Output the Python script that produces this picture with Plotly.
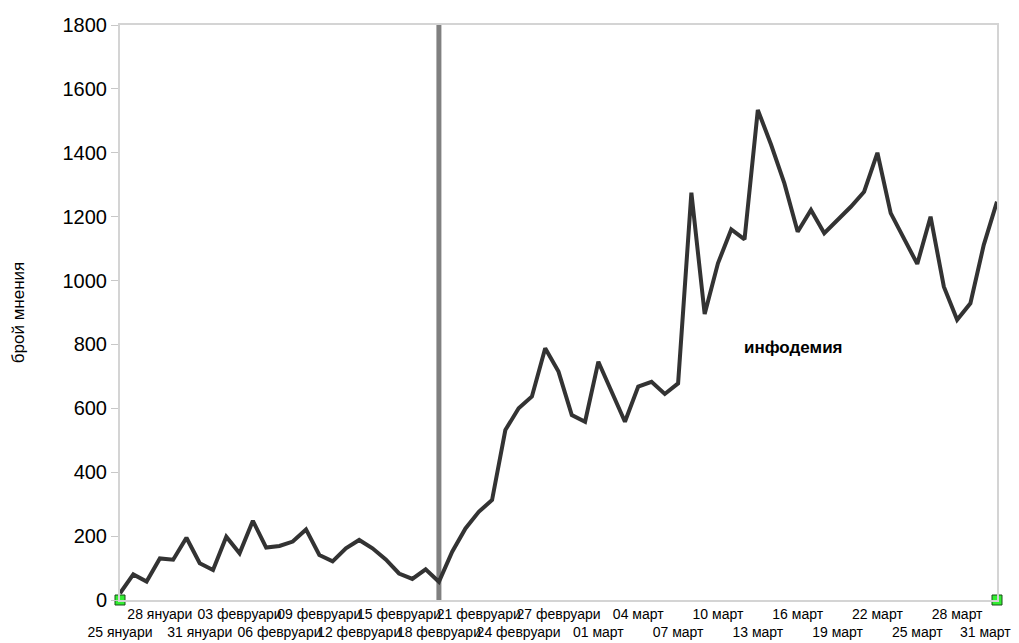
import pandas as pd
import plotly.graph_objects as go

start_date = "2020-01-25"
end_date = "2020-03-31"
dates = pd.date_range(start_date, end_date, freq="D")

opinions = [
    21, 80, 58, 130, 126, 195, 115, 94, 198, 146,
    248, 164, 169, 183, 221, 141, 121, 162, 188, 162,
    127, 83, 66, 96, 57, 151, 224, 276, 313, 532,
    600, 637, 788, 715, 579, 558, 746, 652, 558, 668,
    683, 645, 678, 1275, 895, 1054, 1160, 1129, 1534, 1425,
    1304, 1153, 1221, 1148, 1190, 1231, 1278, 1400, 1211, 1132,
    1052, 1200, 981, 877, 929, 1111, 1247,
]

tick_dates = pd.date_range(start_date, end_date, freq="3D")
month_names = {1: "януари", 2: "февруари", 3: "март"}
tick_labels = [f"{d.day:02d} {month_names[d.month]}" for d in tick_dates]

marker_dates = [start_date, end_date]
marker_values = [0, 0]

divider_date = "2020-02-18"
y_max = 1800
y_ticks = list(range(0, 1801, 200))

annotation_text = "инфодемия"
annotation_date = "2020-03-16"
annotation_value = 790

ticktext = [lab if i % 2 else "&#8203;<br>" + lab for i, lab in enumerate(tick_labels)]
# keep the last label inside the window
ticktext[-1] = ticktext[-1] + "&nbsp;" * 6

fig = go.Figure()
fig.add_trace(go.Scatter(
    x=[divider_date, divider_date], y=[0, y_max], mode="lines",
    line=dict(color="#808080", width=5), hoverinfo="skip", showlegend=False,
))
fig.add_trace(go.Scatter(
    x=dates, y=opinions, mode="lines",
    line=dict(color="#333333", width=4), showlegend=False,
))
fig.add_trace(go.Scatter(
    x=marker_dates, y=marker_values, mode="markers",
    marker=dict(symbol="square", size=10, color="#33ee33",
                line=dict(color="#1a4d1a", width=1)),
    cliponaxis=False, showlegend=False,
))

fig.add_annotation(
    x=annotation_date, y=annotation_value, text=f"<b>{annotation_text}</b>",
    showarrow=False, xshift=-4, font=dict(family="Liberation Sans, Arial", size=17, color="#000000"),
)

fig.update_layout(
    width=1011, height=635,
    margin=dict(l=112, r=22, t=17, b=43),
    paper_bgcolor="white", plot_bgcolor="white",
    font=dict(family="Liberation Sans, Arial", color="#000000"),
)
fig.update_xaxes(
    type="date", range=[start_date, end_date],
    tickvals=list(tick_dates), ticktext=ticktext, tickangle=0, automargin=False,
    ticklabeloverflow="allow",
    tickfont=dict(family="Liberation Sans, Arial", size=14),
    showgrid=False, zeroline=False, ticks="",
    showline=True, linecolor="#d4d4d4", linewidth=2, mirror=True,
)
fig.update_yaxes(
    range=[0, y_max], tickvals=y_ticks, ticktext=[str(v) for v in y_ticks], automargin=False,
    tickfont=dict(family="Liberation Sans, Arial", size=20),
    showgrid=False, zeroline=False,
    ticks="outside", ticklen=7, tickcolor="#c8c8c8", tickwidth=1,
    showline=True, linecolor="#d4d4d4", linewidth=2, mirror=True,
    title=dict(text="брой мнения", font=dict(family="Liberation Sans, Arial", size=17), standoff=34),
)

fig.write_html("out.html")
